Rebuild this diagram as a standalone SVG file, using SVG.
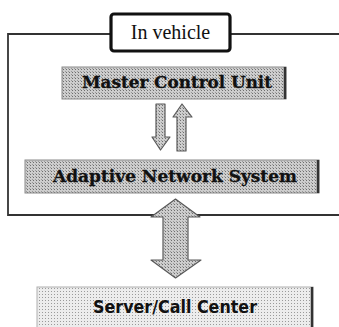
<svg xmlns="http://www.w3.org/2000/svg" width="339" height="327" viewBox="0 0 339 327">
<defs>
<pattern id="dots" width="3" height="3" patternUnits="userSpaceOnUse">
<rect width="3" height="3" fill="#cdcdcd"/>
<rect width="1" height="1" fill="#6e6e6e"/>
<rect x="2" y="2" width="1" height="1" fill="#9a9a9a"/>
</pattern>
<pattern id="dotsLight" width="3" height="3" patternUnits="userSpaceOnUse">
<rect width="3" height="3" fill="#ececec"/>
<rect width="1" height="1" fill="#9a9a9a"/>
</pattern>
</defs>
<style>
.frame{fill:none;stroke:#333;stroke-width:1.8}
.box{fill:url(#dots);stroke:#8a8a8a;stroke-width:1}
.shade{stroke:#333;stroke-width:2.5}
.arrow{fill:url(#dots);stroke:#5a5a5a;stroke-width:1.2;stroke-linejoin:round}
.serifB{font-family:"DejaVu Serif",serif;font-weight:bold;fill:#111;stroke:#111;stroke-width:0.3}
</style>
<g id="connectors">
<polyline class="frame" points="110,34 8,34 8,215 339,215"/>
<line class="frame" x1="231" y1="34" x2="339" y2="34"/>
<polygon class="arrow" points="156,104 165,104 165,137 170,137 160.5,150 152,137 156,137"/>
<polygon class="arrow" points="182,104 192,117 186,117 186,151 177,151 177,117 173,117"/>
<polygon class="arrow" points="175.5,199 200,217 188,217 188,260 201,260 175.5,278 151,260 163,260 163,217 151,217"/>
</g>
<g id="in-vehicle">
<rect x="111" y="14" width="119" height="37" rx="3" fill="#fff" stroke="#111" stroke-width="3.2"/>
<text x="170.5" y="39" text-anchor="middle" font-family="Liberation Serif,serif" font-size="20" fill="#111">In vehicle</text>
</g>
<g id="master-control-unit">
<rect class="box" x="62" y="67" width="224" height="32"/>
<line class="shade" x1="285" y1="67" x2="285" y2="99"/>
<text class="serifB" x="177" y="88" text-anchor="middle" font-size="16" textLength="190" lengthAdjust="spacingAndGlyphs">Master Control Unit</text>
</g>
<g id="adaptive-network-system">
<rect class="box" x="25" y="160" width="294" height="33"/>
<line class="shade" x1="318" y1="160" x2="318" y2="193"/>
<text class="serifB" x="175" y="182" text-anchor="middle" font-size="16" textLength="244" lengthAdjust="spacingAndGlyphs">Adaptive Network System</text>
</g>
<g id="server-call-center">
<rect x="37" y="287" width="276" height="45" fill="url(#dotsLight)" stroke="#b0b0b0" stroke-width="1"/>
<line class="shade" x1="312" y1="287" x2="312" y2="327"/>
<text x="175" y="313" text-anchor="middle" font-family="DejaVu Sans,sans-serif" font-weight="bold" font-size="17" fill="#111" textLength="164" lengthAdjust="spacingAndGlyphs">Server/Call Center</text>
</g>
</svg>
